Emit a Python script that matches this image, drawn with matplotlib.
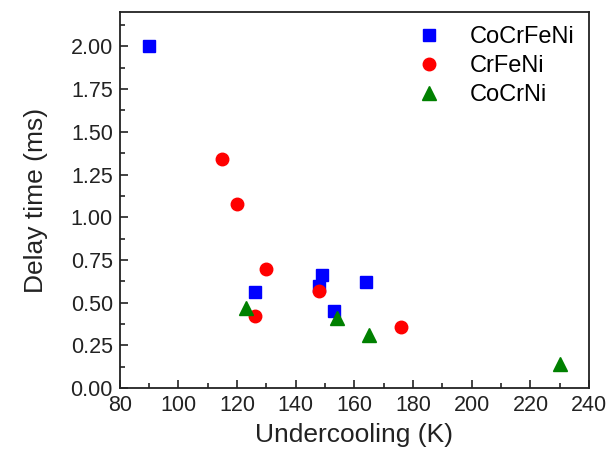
import matplotlib
matplotlib.use('Agg')
import matplotlib.pyplot as plt
from matplotlib.ticker import MultipleLocator, FormatStrFormatter

plt.rcParams['font.family'] = ['Liberation Sans', 'DejaVu Sans']

# CoCrFeNi
cocrfeni_x = [90, 126, 148, 149, 153, 164]
cocrfeni_y = [2.00, 0.56, 0.60, 0.66, 0.45, 0.62]
# CrFeNi
crfeni_x = [115, 120, 130, 126, 148, 176]
crfeni_y = [1.34, 1.08, 0.70, 0.42, 0.57, 0.36]
# CoCrNi
cocrni_x = [123, 154, 165, 230]
cocrni_y = [0.47, 0.41, 0.31, 0.14]

fig = plt.figure(figsize=(6.08, 4.66), dpi=100)
ax = fig.add_axes([0.197, 0.167, 0.772, 0.807])

ax.plot(cocrfeni_x, cocrfeni_y, 's', color='#0000ff', markersize=8, label='CoCrFeNi', linestyle='none')
ax.plot(crfeni_x, crfeni_y, 'o', color='#ff0000', markersize=9, label='CrFeNi', linestyle='none')
ax.plot(cocrni_x, cocrni_y, '^', color='#008000', markersize=9.5, label='CoCrNi', linestyle='none')

ax.set_xlim(80, 240)
ax.set_ylim(0, 2.2)
ax.xaxis.set_major_locator(MultipleLocator(20))
ax.xaxis.set_minor_locator(MultipleLocator(10))
ax.yaxis.set_major_locator(MultipleLocator(0.25))
ax.yaxis.set_minor_locator(MultipleLocator(0.125))
ax.yaxis.set_major_formatter(FormatStrFormatter('%.2f'))

ax.tick_params(which='both', direction='in', labelsize=15.5, width=1.2, colors='#222222')
ax.tick_params(which='major', length=6, pad=5)
ax.tick_params(which='minor', length=3.5)
for s in ax.spines.values():
    s.set_linewidth(1.3)
    s.set_color('#222222')

ax.set_xlabel('Undercooling (K)', fontsize=19, color='#222222', labelpad=5)
ax.set_ylabel('Delay time (ms)', fontsize=19, color='#222222', labelpad=16)

ax.legend(loc='upper right', frameon=False, fontsize=17, handletextpad=1.0,
          labelspacing=0.3, borderaxespad=0.2, handlelength=1.5)

fig.savefig('out.png', dpi=100)
